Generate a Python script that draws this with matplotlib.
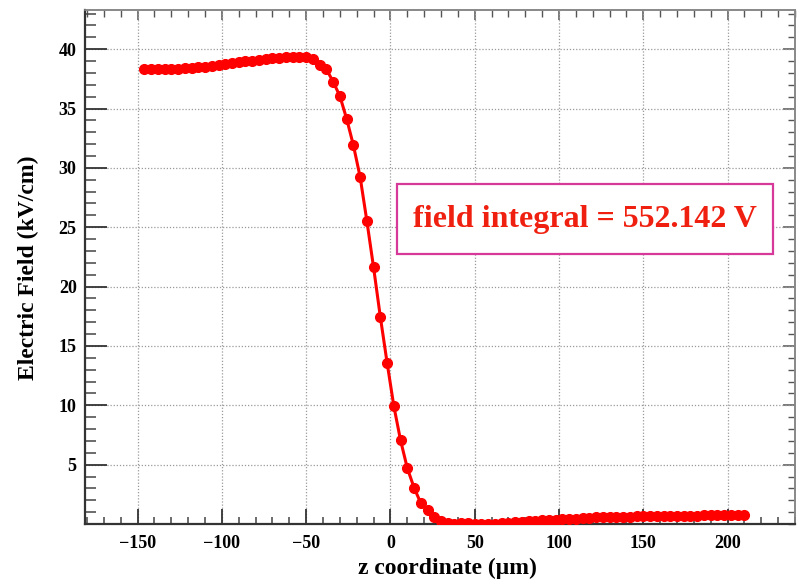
import matplotlib
matplotlib.use("Agg")
import matplotlib.pyplot as plt
from matplotlib.ticker import MultipleLocator, FixedLocator
from matplotlib.patches import Rectangle

# z positions (um) and electric field values (kV/cm)
z_um = [
    -146, -142, -138, -134, -130, -126, -122, -118, -114, -110,
    -106, -102, -98, -94, -90, -86, -82, -78, -74, -70,
    -66, -62, -58, -54, -50, -46, -42, -38, -34, -30,
    -26, -22, -18, -14, -10, -6, -2, 2, 6, 10,
    14, 18, 22, 26, 30, 34, 38, 42, 46, 50,
    54, 58, 62, 66, 70, 74, 78, 82, 86, 90,
    94, 98, 102, 106, 110, 114, 118, 122, 126, 130,
    134, 138, 142, 146, 150, 154, 158, 162, 166, 170,
    174, 178, 182, 186, 190, 194, 198, 202, 206, 210,
]
field_kv_cm = [
    38.30, 38.32, 38.33, 38.34, 38.35, 38.37, 38.40, 38.43, 38.47, 38.52,
    38.58, 38.66, 38.74, 38.82, 38.90, 38.97, 39.04, 39.11, 39.18, 39.24,
    39.29, 39.32, 39.34, 39.35, 39.32, 39.15, 38.67, 38.31, 37.26, 36.05,
    34.14, 31.92, 29.25, 25.54, 21.61, 17.45, 13.60, 9.94, 7.05, 4.71,
    3.06, 1.76, 1.15, 0.58, 0.24, 0.05, 0.03, 0.05, 0.05, 0.04,
    0.02, 0.01, 0.02, 0.06, 0.10, 0.14, 0.18, 0.22, 0.26, 0.30,
    0.34, 0.37, 0.40, 0.43, 0.46, 0.49, 0.52, 0.55, 0.57, 0.59,
    0.61, 0.62, 0.63, 0.64, 0.65, 0.66, 0.66, 0.67, 0.67, 0.68,
    0.69, 0.70, 0.71, 0.72, 0.72, 0.73, 0.73, 0.74, 0.74, 0.75,
]

x_major = [-150, -100, -50, 0, 50, 100, 150, 200]
y_major = [5, 10, 15, 20, 25, 30, 35, 40]
integral_text = "field integral = 552.142 V"

serif = ["Liberation Serif", "DejaVu Serif"]
plt.rcParams["font.family"] = serif
plt.rcParams["font.weight"] = "bold"

W, H = 802, 584
fig = plt.figure(figsize=(W / 100, H / 100), dpi=100)
fig.patch.set_facecolor("white")

left, right, bottom, top = 85, 795, 524, 10
ax = fig.add_axes([left / W, (H - bottom) / H, (right - left) / W, (bottom - top) / H])

ax.set_xlim(-181.2, 240.0)
ax.set_ylim(0, 43.3)

# grid
ax.grid(True, which="major", linestyle=(0, (1, 1.5)), color="#9a9a9a", linewidth=0.9)
ax.set_axisbelow(True)

# data
ax.plot(z_um, field_kv_cm, color="#ff0000", linewidth=2.2, marker="o",
        markersize=7.0, markerfacecolor="#ff0000", markeredgecolor="#ff0000",
        zorder=3)

# ticks: main (left / bottom)
ax.xaxis.set_major_locator(FixedLocator(x_major))
ax.xaxis.set_minor_locator(MultipleLocator(10))
ax.yaxis.set_major_locator(FixedLocator(y_major))
ax.yaxis.set_minor_locator(MultipleLocator(1))
ax.tick_params(axis="y", which="major", direction="in", length=15.5, width=1.3,
               color="#333333", labelsize=13, pad=6, right=False)
ax.tick_params(axis="y", which="minor", direction="in", length=7.7, width=1.1,
               color="#444444", right=False)
ax.tick_params(axis="x", which="major", direction="in", length=10.5, width=1.3,
               color="#333333", labelsize=13, pad=8, top=False)
ax.tick_params(axis="x", which="minor", direction="in", length=5.3, width=1.1,
               color="#444444", top=False)
for lab in ax.get_xticklabels() + ax.get_yticklabels():
    lab.set_fontweight("bold")

# opposite-side ticks (top / right)
secx = ax.secondary_xaxis("top")
secx.xaxis.set_major_locator(FixedLocator(x_major))
secx.xaxis.set_minor_locator(MultipleLocator(10))
secx.tick_params(axis="x", which="major", direction="in", length=7.2, width=1.1,
                 color="#555555", labeltop=False)
secx.tick_params(axis="x", which="minor", direction="in", length=5.0, width=1.0,
                 color="#555555")
secx.spines["top"].set_color("#888888")
secx.spines["top"].set_linewidth(1.2)

secy = ax.secondary_yaxis("right")
secy.yaxis.set_major_locator(FixedLocator(y_major))
secy.yaxis.set_minor_locator(MultipleLocator(1))
secy.tick_params(axis="y", which="major", direction="in", length=8.6, width=1.1,
                 color="#555555", labelright=False)
secy.tick_params(axis="y", which="minor", direction="in", length=4.8, width=1.0,
                 color="#555555")
secy.spines["right"].set_color("#888888")
secy.spines["right"].set_linewidth(1.2)

for side in ("left", "bottom"):
    ax.spines[side].set_color("#333333")
    ax.spines[side].set_linewidth(1.6)
for side in ("top", "right"):
    ax.spines[side].set_color("#888888")
    ax.spines[side].set_linewidth(1.2)

# axis titles
fig.text(28 / W, 1 - 268 / H, "Electric Field (kV/cm)", rotation=90,
         ha="center", va="center", fontsize=17, fontweight="bold")
fig.text(447 / W, 1 - 568 / H, "z coordinate (\u03bcm)",
         ha="center", va="center", fontsize=17, fontweight="bold")

# integral annotation box
bx0, bx1, by0, by1 = 397, 773, 184, 254
fig.patches.append(Rectangle((bx0 / W, 1 - by1 / H), (bx1 - bx0) / W, (by1 - by0) / H,
                             transform=fig.transFigure, facecolor="white",
                             edgecolor="#d6399a", linewidth=1.6, zorder=5))
fig.text((bx0 + bx1) / 2 / W, 1 - 219 / H, integral_text, ha="center", va="center",
         fontsize=23, fontweight="bold", color="#f02010", zorder=6)

fig.savefig("out.png", dpi=100)
